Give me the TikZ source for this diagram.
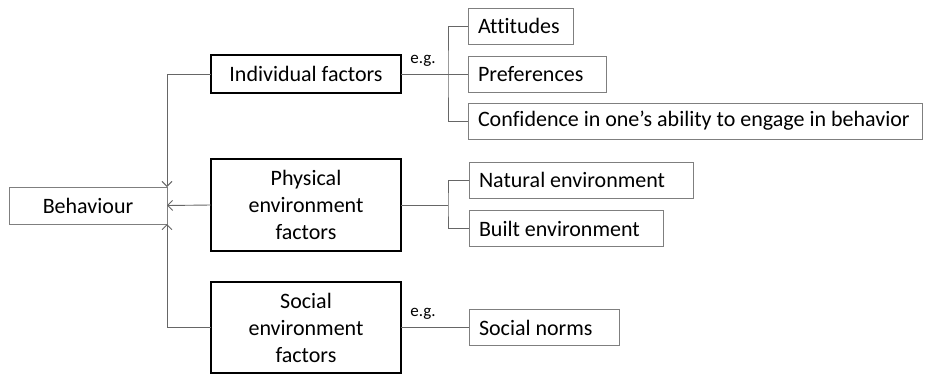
\documentclass[tikz,border=0pt]{standalone}
\usepackage{fontspec}
\setmainfont{Carlito}[Ligatures=NoCommon]
\usetikzlibrary{arrows.meta}
\definecolor{linegray}{HTML}{666666}
\definecolor{boxgray}{HTML}{7F7F7F}
% natural inter-word spacing inside fixed-width boxes
\newcommand{\natspace}{\spaceskip=0pt\xspaceskip=0pt\relax}
\begin{document}
\begin{tikzpicture}[x=1pt,y=-1pt,
  every node/.style={inner sep=0pt,outer sep=0pt,font=\fontsize{22}{27}\selectfont},
  factor/.style={draw=black,line width=2.5pt,align=center,fill=white},
  item/.style={draw=boxgray,line width=1pt,minimum height=36pt,text width=#1-20pt,align=left,inner xsep=10pt,anchor=west},
  target/.style={draw=boxgray,line width=1pt,align=center},
  link/.style={draw=linegray,line width=0.9pt},
  arrow/.style={link,-{Straight Barb[length=5pt,width=10pt]}},
  eg/.style={font=\fontsize{17}{19}\selectfont}]
\useasboundingbox (0,0) rectangle (932,375);

% behaviour box
\node[target,minimum width=158pt,minimum height=37pt] (beh) at (88,205.5) {Behaviour};

% factor boxes
\node[factor,minimum width=190pt,minimum height=38pt] (ind) at (306,74) {Individual factors};
\node[factor,minimum width=190pt,minimum height=92pt] (phy) at (306,205) {Physical\\environment\\factors};
\node[factor,minimum width=190pt,minimum height=91pt] (soc) at (306,327.5) {Social\\environment\\factors};

% examples
\node[item=105pt] (att) at (468,26) {\natspace Attitudes};
\node[item=138pt] (pref) at (468,74) {\natspace Preferences};
\node[item=454pt] (conf) at (468,121) {\natspace Confidence in one’s ability to engage in behavior};
\node[item=224pt] (nat) at (469,180) {\natspace Natural environment};
\node[item=194pt] (blt) at (469,228.5) {\natspace Built environment};
\node[item=150pt] (norm) at (469,327.5) {\natspace Social norms};

% branch points
\coordinate (bi) at (448,74);
\coordinate (bp) at (448,205);

% arrows into behaviour
\draw[arrow] (ind.west) -| (beh.north east);
\draw[arrow] (phy.west) -- (beh.east);
\draw[arrow] (soc.west) -| (beh.south east);

% individual factors branches
\draw[link] (ind.east) -- (bi);
\draw[link] (att.west) -| (bi) |- (conf.west);
\draw[link] (bi) -- (pref.west);
\node[eg] (eg1) at (423,61) {e.g.};

% physical environment branches
\draw[link] (phy.east) -- (bp);
\draw[link] (nat.west) -| (bp) |- (blt.west);

% social environment branch
\draw[link] (soc.east) -- (norm.west);
\node[eg] (eg2) at (423,314) {e.g.};
\end{tikzpicture}
\end{document}
